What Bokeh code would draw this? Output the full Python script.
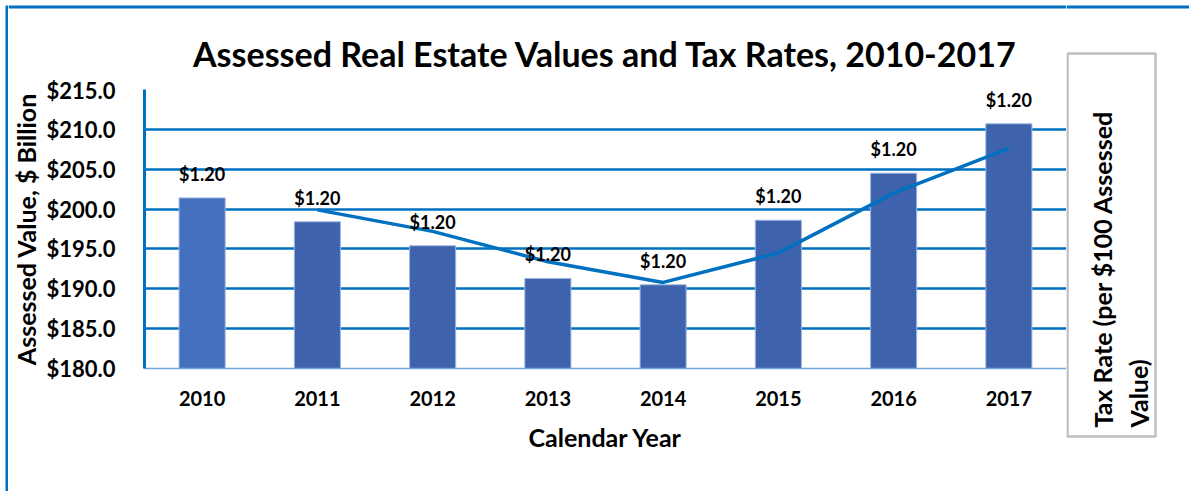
from bokeh.plotting import figure
from bokeh.layouts import row, column
from bokeh.models import (Range1d, Label, LabelSet, ColumnDataSource,
                          NumeralTickFormatter, FixedTicker)
from bokeh.core.properties import value
from bokeh.embed import file_html
from bokeh.resources import INLINE

# ---------------- data ----------------
years = ["2010", "2011", "2012", "2013", "2014", "2015", "2016", "2017"]
assessed_value = [201.4, 198.4, 195.4, 191.3, 190.5, 198.6, 204.5, 210.7]   # $ Billion
bar_labels = ["$1.20", "$1.20", "$1.20", "$1.20", "$1.20", "$1.20", "$1.20", "$1.20"]
# tax-rate line on the (unlabelled) secondary axis, read in primary-axis units
line_years = ["2011", "2012", "2013", "2014", "2015", "2016", "2017"]
tax_rate_line = [199.9, 197.2, 193.4, 190.8, 194.5, 202.0, 207.6]
y_ticks = [180, 185, 190, 195, 200, 205, 210, 215]

title_text = "Assessed Real Estate Values and Tax Rates, 2010-2017"
y_title = "Assessed Value, $ Billion"
x_title = "Calendar Year"
right_title = "Tax Rate (per $100 Assessed\nValue)"

# ---------------- style ----------------
FONT = "Lato"
BLUE = "#0070C0"
bar_colors = ["#4470BE"] + ["#3E63AC"] * 7
HEADER_H = 76


def no_align(fig):
    if "frame_align" in fig.properties():
        fig.frame_align = False


def panel(w, h, x0, x1, y0, y1):
    """Axis-less figure whose frame fills it (pixel-like coordinates, y downward)."""
    f = figure(width=w, height=h, title=None, output_backend="svg", toolbar_location=None,
               x_axis_location=None, y_axis_location=None,
               min_border_left=0, min_border_top=0, min_border_right=0, min_border_bottom=0,
               x_range=Range1d(x0, x1), y_range=Range1d(y1, y0))
    f.grid.visible = False
    f.outline_line_color = None
    f.background_fill_color = "white"
    f.border_fill_color = "white"
    no_align(f)
    return f


# left edge line of the chart area
left_strip = figure(width=8, height=491, title=None, output_backend="svg",
                    toolbar_location=None, x_axis_location=None, y_axis_location=None,
                    min_border_left=5, min_border_top=5, min_border_right=0,
                    min_border_bottom=0, x_range=Range1d(0, 1), y_range=Range1d(0, 1))
left_strip.grid.visible = False
left_strip.outline_line_color = None
left_strip.background_fill_color = BLUE
left_strip.border_fill_color = "white"
no_align(left_strip)

# header with the chart title and the top edge line
header = panel(1058, HEADER_H, 8, 1066, 0, HEADER_H)
header.quad(left=8, right=1066, top=5, bottom=8, fill_color=BLUE, line_color=None)
header.add_layout(Label(x=605, y=53, text=title_text, text_align="center",
                        text_baseline="alphabetic", text_font=FONT,
                        text_font_style="bold", text_font_size="34px",
                        text_color="black"))

# ---------------- main chart ----------------
p = figure(x_range=years, y_range=Range1d(180, 215), width=1058, height=491 - HEADER_H,
           title=None, output_backend="svg", toolbar_location=None,
           min_border_left=135, min_border_right=0, min_border_top=89 - HEADER_H,
           min_border_bottom=123)
no_align(p)
p.extra_y_ranges = {"tax": Range1d(180, 215)}
p.outline_line_color = None
p.background_fill_color = "white"
p.border_fill_color = "white"

src = ColumnDataSource(dict(years=years, val=assessed_value, lab=bar_labels, color=bar_colors))
p.vbar(x="years", top="val", bottom=180, width=0.4, source=src,
       fill_color="color", line_color="#9FB7E0", line_width=1)

p.line(x=line_years, y=tax_rate_line, y_range_name="tax", line_color=BLUE, line_width=3.5)

p.add_layout(LabelSet(x="years", y="val", text="lab", source=src, y_offset=17,
                      text_align="center", text_baseline="alphabetic",
                      text_font=value(FONT), text_font_style="bold",
                      text_font_size="18px", text_color="black"))

p.yaxis.ticker = FixedTicker(ticks=y_ticks)
p.yaxis.formatter = NumeralTickFormatter(format="$0.0")
p.yaxis.major_tick_line_color = None
p.yaxis.minor_tick_line_color = None
p.yaxis.axis_line_color = BLUE
p.yaxis.axis_line_width = 3
p.yaxis.major_label_standoff = 23
p.yaxis.major_label_text_font = FONT
p.yaxis.major_label_text_font_style = "bold"
p.yaxis.major_label_text_font_size = "22px"
p.yaxis.major_label_text_color = "black"
p.yaxis.axis_label = y_title
p.yaxis.axis_label_standoff = 2
p.yaxis.axis_label_text_font = FONT
p.yaxis.axis_label_text_font_style = "bold"
p.yaxis.axis_label_text_font_size = "25px"
p.yaxis.axis_label_text_color = "black"

p.xaxis.major_tick_line_color = None
p.xaxis.minor_tick_line_color = None
p.xaxis.axis_line_color = "#6FA8DC"
p.xaxis.axis_line_width = 1.5
p.xaxis.major_label_standoff = 16
p.xaxis.major_label_text_font = FONT
p.xaxis.major_label_text_font_style = "bold"
p.xaxis.major_label_text_font_size = "20px"
p.xaxis.major_label_text_color = "black"
p.xaxis.axis_label = x_title
p.xaxis.axis_label_standoff = 13
p.xaxis.axis_label_text_font = FONT
p.xaxis.axis_label_text_font_style = "bold"
p.xaxis.axis_label_text_font_size = "25px"
p.xaxis.axis_label_text_color = "black"

p.xgrid.grid_line_color = None
p.ygrid.ticker = FixedTicker(ticks=y_ticks[1:])
p.ygrid.grid_line_color = BLUE
p.ygrid.grid_line_width = 2.5

# ---------------- secondary-axis title panel ----------------
p2 = panel(123, 491, 1066, 1189, 0, 491)
p2.quad(left=1066, right=1189, top=5, bottom=8, fill_color=BLUE, line_color=None)
p2.quad(left=1067, right=1155, top=53, bottom=436, fill_color="white",
        line_color="#BFBFBF", line_width=2.5)
p2.add_layout(Label(x=1087, y=427, text=right_title, angle=1.5708,
                    text_align="left", text_baseline="top", text_line_height=1.2,
                    text_font=FONT, text_font_style="bold", text_font_size="25px",
                    text_color="black"))

layout = row(left_strip, column(header, p, spacing=0), p2, spacing=0)

open("out.html", "w").write(file_html(layout, INLINE))
